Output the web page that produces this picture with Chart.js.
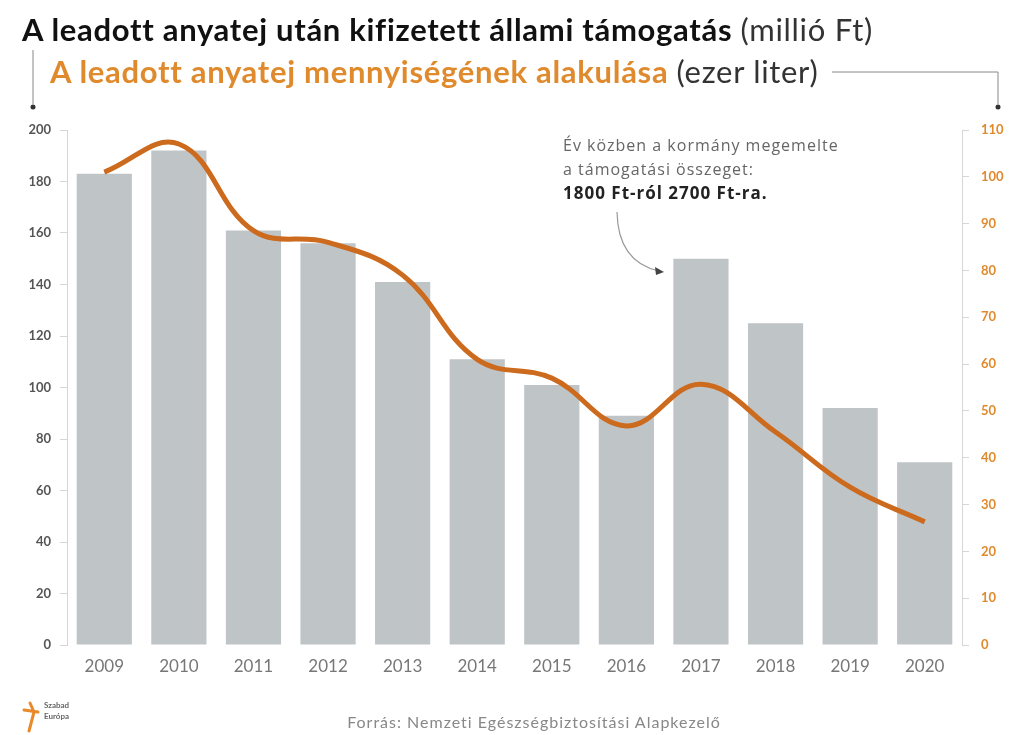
<!DOCTYPE html>
<html>
<head>
<meta charset="utf-8">
<script src="https://cdn.jsdelivr.net/npm/chart.js@4.4.0/dist/chart.umd.min.js"></script>
<style>
  body { margin: 0; background: #fff; }
  #wrap { position: relative; width: 1013px; height: 735px; overflow: hidden; }
  #myChart { position: absolute; left: 0; top: 0; }
  .t1 { position: absolute; left: 22px; top: 10px; font: 700 31px Lato, sans-serif; letter-spacing: 0.7px; color: #111; white-space: nowrap; }
  .t2 { position: absolute; left: 50px; top: 52px; font: 700 31px Lato, sans-serif; letter-spacing: 0.7px; color: #e08a2e; white-space: nowrap; }
  .t1 span, .t2 span { font-weight: 400; color: #333; }
  .src { position: absolute; left: 0; width: 1068px; top: 712px; text-align: center; font: 400 16px Lato, sans-serif; letter-spacing: 1px; color: #888; }
  .logo { position: absolute; left: 44px; top: 700px; font: 700 8px Lato, sans-serif; color: #666; line-height: 11px; }
</style>
</head>
<body>
<div id="wrap">
  <canvas id="myChart" width="1013" height="735"></canvas>
  <div class="t1">A leadott anyatej után kifizetett állami támogatás <span>(millió Ft)</span></div>
  <div class="t2">A leadott anyatej mennyiségének alakulása <span>(ezer liter)</span></div>
  <div class="logo">Szabad<br>Európa</div>
  <div class="src">Forrás: Nemzeti Egészségbiztosítási Alapkezelő</div>
</div>
<script>
const years = ['2009', '2010', '2011', '2012', '2013', '2014', '2015', '2016', '2017', '2018', '2019', '2020'];
// állami támogatás, millió Ft (bal tengely)
const support = [183, 192, 161, 156, 141, 111, 101, 89, 150, 125, 92, 71];
// leadott anyatej, ezer liter (jobb tengely)
const milk = [101, 107, 88.5, 86, 79, 61, 57, 46.8, 55.7, 45.5, 33.7, 26.3];
const noteLines = ['Év közben a kormány megemelte', 'a támogatási összeget:', '1800 Ft-ról 2700 Ft-ra.'];

const barGrey = '#bfc4c7';
const lineOrange = '#cc6a1e';
const axisGrey = '#d6d6d6';

// title brackets, annotation and logo mark
const decor = {
  id: 'decor',
  afterDraw(chart) {
    const c = chart.ctx;
    c.save();
    // brackets from the titles to the axes
    c.strokeStyle = '#888';
    c.lineWidth = 1;
    c.beginPath();
    c.moveTo(33, 50); c.lineTo(33, 104);
    c.moveTo(832, 72); c.lineTo(998, 72); c.lineTo(998, 104);
    c.stroke();
    c.fillStyle = '#333';
    c.beginPath(); c.arc(33, 107, 2.5, 0, Math.PI * 2); c.fill();
    c.beginPath(); c.arc(998, 107, 2.5, 0, Math.PI * 2); c.fill();

    // note text
    c.textBaseline = 'alphabetic';
    c.font = '400 16px "Open Sans", sans-serif';
    c.letterSpacing = '1px';
    c.fillStyle = '#666';
    c.fillText(noteLines[0], 563, 151);
    c.fillText(noteLines[1], 563, 175);
    c.font = '700 17px "Open Sans", sans-serif';
    c.letterSpacing = '1px';
    c.fillStyle = '#222';
    c.fillText(noteLines[2], 563, 199);
    c.letterSpacing = '0px';

    // curved arrow
    c.strokeStyle = '#999';
    c.lineWidth = 1.2;
    c.beginPath();
    c.moveTo(617, 212);
    c.quadraticCurveTo(618, 262, 659, 271);
    c.stroke();
    c.fillStyle = '#444';
    c.beginPath();
    c.moveTo(664, 272); c.lineTo(655, 267); c.lineTo(656, 275);
    c.closePath(); c.fill();

    // logo mark
    c.strokeStyle = '#e8892a';
    c.lineWidth = 3;
    c.lineCap = 'round';
    c.beginPath();
    c.moveTo(30, 703); c.lineTo(34, 712);
    c.moveTo(24, 710); c.lineTo(38, 712);
    c.moveTo(34, 712); c.lineTo(29, 731);
    c.stroke();
    c.restore();
  }
};

const ctx = document.getElementById('myChart');
new Chart(ctx, {
  data: {
    labels: years,
    datasets: [
      {
        type: 'line',
        label: 'Anyatej (ezer liter)',
        data: milk,
        yAxisID: 'yR',
        borderColor: lineOrange,
        borderWidth: 5,
        tension: 0.4,
        pointRadius: 0,
        fill: false,
        order: 0
      },
      {
        type: 'bar',
        label: 'Támogatás (millió Ft)',
        data: support,
        yAxisID: 'yL',
        backgroundColor: barGrey,
        categoryPercentage: 1,
        barPercentage: 0.74,
        order: 1
      }
    ]
  },
  options: {
    responsive: false,
    animation: false,
    layout: { padding: { top: 130, left: 0, right: 0, bottom: 0 } },
    plugins: { legend: { display: false }, tooltip: { enabled: false } },
    scales: {
      x: {
        grid: { display: false, drawTicks: false },
        border: { display: false },
        ticks: { color: '#777', font: { family: 'Lato', size: 17 }, padding: 11 },
        afterFit: (s) => { s.height = 90; }
      },
      yL: {
        position: 'left',
        min: 0, max: 200,
        ticks: { stepSize: 20, color: '#555', font: { family: 'Lato', size: 13, weight: 'bold' }, padding: 9 },
        grid: { drawOnChartArea: false, color: axisGrey, tickLength: 7 },
        border: { color: axisGrey },
        afterFit: (s) => { s.width = 67; }
      },
      yR: {
        position: 'right',
        min: 0, max: 110,
        ticks: { stepSize: 10, color: '#e08a2e', font: { family: 'Lato', size: 13, weight: 'bold' }, padding: 12 },
        grid: { drawOnChartArea: false, color: axisGrey, tickLength: 7 },
        border: { color: axisGrey },
        afterFit: (s) => { s.width = 51; }
      }
    }
  },
  plugins: [decor]
});
</script>
</body>
</html>
